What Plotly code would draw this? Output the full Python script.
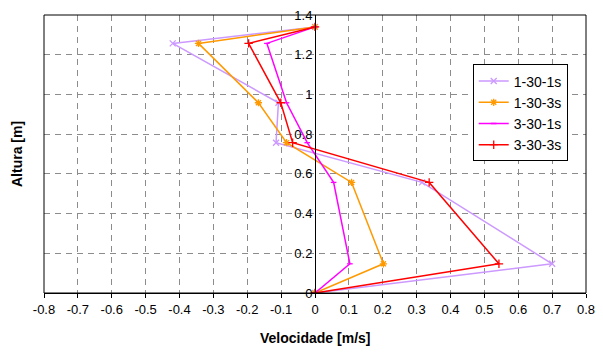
import plotly.graph_objects as go

series_names = ["1-30-1s", "1-30-3s", "3-30-1s", "3-30-3s"]
altura = [0, 0.147, 0.557, 0.757, 0.958, 1.257, 1.34]
vel_1_30_1s = [0, 0.70, 0.316, -0.115, -0.108, -0.42, 0]
vel_1_30_3s = [0, 0.202, 0.108, -0.084, -0.167, -0.344, 0]
vel_3_30_1s = [0, 0.103, 0.055, -0.023, -0.084, -0.142, 0]
vel_3_30_3s = [0, 0.543, 0.337, -0.066, -0.101, -0.196, 0]

x_ticks = [-0.8, -0.7, -0.6, -0.5, -0.4, -0.3, -0.2, -0.1, 0, 0.1, 0.2, 0.3, 0.4, 0.5, 0.6, 0.7, 0.8]
x_labels = ["-0.8", "-0.7", "-0.6", "-0.5", "-0.4", "-0.3", "-0.2", "-0.1", "0", "0.1", "0.2", "0.3", "0.4", "0.5", "0.6", "0.7", "0.8"]
y_ticks = [0, 0.2, 0.4, 0.6, 0.8, 1.0, 1.2, 1.4]
y_labels = ["0", "0.2", "0.4", "0.6", "0.8", "1", "1.2", "1.4"]

colors = ["#CC99FF", "#FF9900", "#FF00FF", "#FF0000"]
symbols = ["x-thin", "asterisk", "line-ew", "cross-thin"]
sizes = [6, 6, 4, 6]
values = [vel_1_30_1s, vel_1_30_3s, vel_3_30_1s, vel_3_30_3s]

fig = go.Figure()
for name, vals, c, s, sz in zip(series_names, values, colors, symbols, sizes):
    fig.add_trace(go.Scatter(
        x=vals, y=altura, mode="lines+markers", name=name,
        legendgroup=name,
        line=dict(color=c, width=1.5),
        marker=dict(symbol=s, size=sz, color=c, line=dict(color=c, width=1.3)),
    ))

font = "Liberation Sans, Arial, sans-serif"
grid = dict(showgrid=True, gridcolor="#8c8c8c", gridwidth=1, griddash="6px,5px")

fig.update_layout(
    width=603, height=352,
    margin=dict(l=44, r=13, t=8, b=59),
    paper_bgcolor="white", plot_bgcolor="white",
    font=dict(family=font, size=13, color="black"),
    showlegend=True,
    legend=dict(
        x=0.791, y=0.822, xanchor="left", yanchor="top",
        bgcolor="white", bordercolor="black", borderwidth=1,
        font=dict(family=font, size=14, color="black"),
        tracegroupgap=0, traceorder="grouped",
    ),
    xaxis=dict(
        range=[-0.8, 0.8], tickvals=x_ticks, ticktext=x_labels,
        showline=True, linecolor="black", linewidth=1,
        ticks="outside", ticklen=4, tickcolor="black",
        zeroline=False, **grid,
    ),
    yaxis=dict(
        range=[0, 1.4], tickvals=y_ticks, ticktext=y_labels,
        anchor="free", position=0.5,
        showline=True, linecolor="black", linewidth=1,
        ticks="", zeroline=False, **grid,
    ),
    shapes=[dict(type="rect", xref="paper", yref="paper", x0=0, x1=1, y0=0, y1=1,
                 line=dict(color="black", width=1), layer="above")],
    annotations=[
        dict(text="<b>Velocidade [m/s]</b>", xref="paper", yref="paper",
             x=0.5, y=0, yshift=-45, xanchor="center", yanchor="middle", showarrow=False,
             font=dict(family=font, size=14)),
        dict(text="<b>Altura [m]</b>", xref="paper", yref="paper",
             x=0, xshift=-27, y=0.5, xanchor="center", yanchor="middle", showarrow=False,
             textangle=-90, font=dict(family=font, size=14)),
    ],
)

fig.write_html("out.html")
